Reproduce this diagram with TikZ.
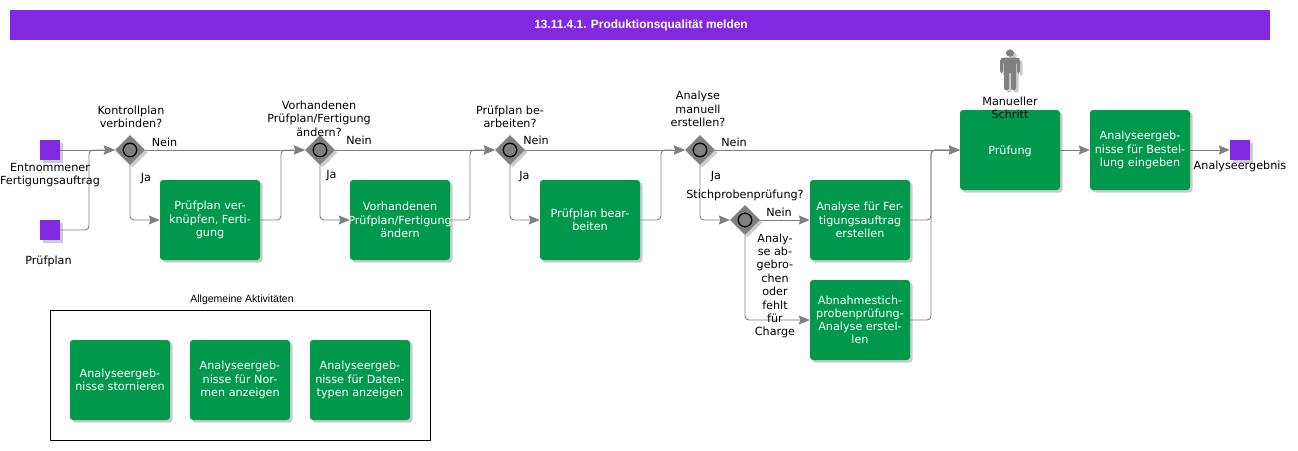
\documentclass[tikz,border=0pt]{standalone}
\usepackage{fontspec}
\setmainfont{DejaVu Sans}
\newfontfamily\arialfont{Liberation Sans}
\usetikzlibrary{arrows.meta}
\usetikzlibrary{shapes.geometric}
\usetikzlibrary{shadows}
\definecolor{flowgray}{RGB}{128,128,128}
\definecolor{taskgreen}{RGB}{0,153,76}
\definecolor{eventviolet}{RGB}{130,40,225}
\tikzset{
 softshadow/.style={drop shadow={shadow xshift=2.5pt,shadow yshift=-2.5pt,fill=black,opacity=0.2}},
 task/.style={rectangle,rounded corners=3pt,fill=taskgreen,text=white,minimum width=100pt,minimum height=80pt,inner sep=0pt,align=center,softshadow,font=\fontsize{11.2}{13.2}\selectfont,execute at begin node={\rule{0pt}{10.5pt}}},
 event/.style={rectangle,fill=eventviolet,minimum size=20pt,inner sep=0pt,softshadow},
 gateway/.style={diamond,fill=flowgray,minimum size=30pt,inner sep=0pt,softshadow},
 gatewayring/.style={circle,draw=black,line width=1.3pt,fill=flowgray,minimum size=13.5pt,inner sep=0pt},
 flow/.style={draw=flowgray,line width=0.9pt,rounded corners=4pt,-{Stealth[length=11pt,width=9pt,inset=1.5pt]}},
 label/.style={text=black,align=center,inner sep=0pt,font=\fontsize{11.2}{13.4}\selectfont},
}
\begin{document}
\begin{tikzpicture}[x=1pt,y=-1pt]
\useasboundingbox (0,0) rectangle (1298,450);
\node[rectangle,fill=eventviolet,minimum width=1260pt,minimum height=30pt,inner sep=0pt,text=white,font=\arialfont\fontsize{11.9}{14}\selectfont\bfseries] (titlebar) at (640,25) {\hspace{2pt}13.11.4.1. Produktionsqualität melden};
% events
\node[event] (evAuftrag) at (50,150) {};
\node[event] (evPlan) at (50,230) {};
\node[event] (evErgebnis) at (1240,150) {};
% gateways
\node[gateway] (gwVerbinden) at (130,150) {};
\node[gateway] (gwAendern) at (320,150) {};
\node[gateway] (gwBearbeiten) at (510,150) {};
\node[gateway] (gwManuell) at (700,150) {};
\node[gateway] (gwStichprobe) at (745,220) {};
\foreach \g in {gwVerbinden,gwAendern,gwBearbeiten,gwManuell,gwStichprobe} {
 \node[gatewayring] (\g ring) at (\g) {};
}
% tasks
\node[task] (tkVerknuepfen) at (210,220) {Prüfplan ver-\\knüpfen, Ferti-\\gung};
\node[task] (tkVorhanden) at (400,220) {Vorhandenen\\\makebox[90pt][c]{Prüfplan/Fertigung}\\ändern};
\node[task] (tkBearbeiten) at (590,220) {Prüfplan bear-\\beiten};
\node[task] (tkFertigung) at (860,220) {Analyse für Fer-\\tigungsauftrag\\erstellen};
\node[task] (tkAbnahme) at (860,320) {Abnahmestich-\\probenprüfung-\\Analyse erstel-\\len};
\node[task] (tkPruefung) at (1010,150) {Prüfung};
\node[task] (tkBestellung) at (1140,150) {Analyseergeb-\\nisse für Bestel-\\lung eingeben};
% general activities
\draw[black,line width=0.9pt] (50.5,310.5) rectangle (430.5,440.5);
\node[task] (tkStorno) at (120,380) {Analyseergeb-\\nisse stornieren};
\node[task] (tkNormen) at (240,380) {Analyseergeb-\\nisse für Nor-\\men anzeigen};
\node[task] (tkTypen) at (360,380) {Analyseergeb-\\nisse für Daten-\\typen anzeigen};
% person
\fill[flowgray,softshadow] (1010,53) ellipse (4.2 and 3.6);
\fill[flowgray,rounded corners=2pt,softshadow] (1002,57.5) -- (1018,57.5) -- (1020,59) -- (1020,73) -- (1017,73) -- (1017,62) -- (1016,62) -- (1016,90) -- (1011,90) -- (1011,72) -- (1009,72) -- (1009,90) -- (1004,90) -- (1004,62) -- (1003,62) -- (1003,73) -- (1000,73) -- (1000,59) -- cycle;
% join points
\coordinate (joinPlan) at (89,150);
\coordinate (joinVerknuepfen) at (281,150);
\coordinate (joinVorhanden) at (470,150);
\coordinate (joinBearbeiten) at (661,150);
\coordinate (joinAnalyse) at (931,150);
% connectors
\draw[flow] (evAuftrag.east) -- (gwVerbinden.west);
\draw[flow] (evPlan.east) -| (joinPlan) -- (gwVerbinden.west);
\draw[flow] (gwVerbinden.east) -- (gwAendern.west);
\draw[flow] (gwVerbinden.south) |- (tkVerknuepfen.west);
\draw[flow] (tkVerknuepfen.east) -| (joinVerknuepfen) -- (gwAendern.west);
\draw[flow] (gwAendern.east) -- (gwBearbeiten.west);
\draw[flow] (gwAendern.south) |- (tkVorhanden.west);
\draw[flow] (tkVorhanden.east) -| (joinVorhanden) -- (gwBearbeiten.west);
\draw[flow] (gwBearbeiten.east) -- (gwManuell.west);
\draw[flow] (gwBearbeiten.south) |- (tkBearbeiten.west);
\draw[flow] (tkBearbeiten.east) -| (joinBearbeiten) -- (gwManuell.west);
\draw[flow] (gwManuell.east) -- (tkPruefung.west);
\draw[flow] (gwManuell.south) |- (gwStichprobe.west);
\draw[flow] (gwStichprobe.east) -- (tkFertigung.west);
\draw[flow] (gwStichprobe.south) |- (tkAbnahme.west);
\draw[flow] (tkFertigung.east) -| (joinAnalyse) -- (tkPruefung.west);
\draw[flow] (tkAbnahme.east) -| (joinAnalyse) -- (tkPruefung.west);
\draw[flow] (tkPruefung.east) -- (tkBestellung.west);
\draw[flow] (tkBestellung.east) -- (evErgebnis.west);
% labels
\node[label] (lbAuftrag) at (50,175) {Entnommener\\Fertigungsauftrag};
\node[label] (lbPlan) at (48.5,261) {Prüfplan};
\node[label] (lbErgebnis) at (1240,166) {Analyseergebnis};
\node[label] (lbVerbinden) at (131,117) {Kontrollplan\\verbinden?};
\node[label] (lbAendern) at (319,118.5) {Vorhandenen\\Prüfplan/Fertigung\\ändern?};
\node[label] (lbBearbeiten) at (510,117) {Prüfplan be-\\arbeiten?};
\node[label] (lbManuell) at (698,109) {Analyse\\manuell\\erstellen?};
\node[label] (lbStichprobe) at (745,195) {Stichprobenprüfung?};
\node[label] (lbCharge) at (775,286) {Analy-\\se ab-\\gebro-\\chen\\oder\\fehlt\\für\\Charge};
\node[label] (lbSchritt) at (1010,108) {Manueller\\Schritt};
\node[label] (neinA) at (164.5,142) {Nein};
\node[label] (neinB) at (359,140) {Nein};
\node[label] (neinC) at (536,140) {Nein};
\node[label] (neinD) at (734,142) {Nein};
\node[label] (neinE) at (779,212) {Nein};
\node[label] (jaA) at (146,179) {Ja};
\node[label] (jaB) at (331.5,176) {Ja};
\node[label] (jaC) at (524.5,177) {Ja};
\node[label] (jaD) at (716,177) {Ja};
\node[label,font=\arialfont\fontsize{10.5}{12}\selectfont] (lbAllgemein) at (242,299.5) {Allgemeine Aktivitäten};
\end{tikzpicture}
\end{document}
